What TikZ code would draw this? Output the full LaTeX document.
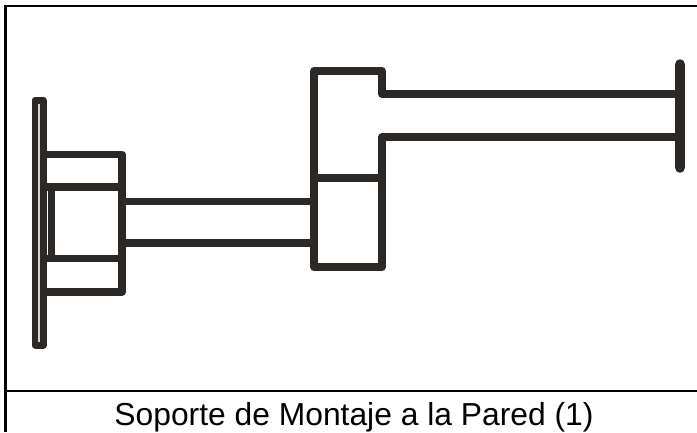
\documentclass[tikz,border=0pt]{standalone}
\usepackage{fontspec}
\setmainfont{Liberation Sans}
\definecolor{ink}{HTML}{2B2825}
\definecolor{slit}{HTML}{D4D4D4}
\tikzset{
  part/.style={draw=ink,line width=7.6pt,line join=round,line cap=butt},
  frame/.style={draw=black,line width=2.6pt},
  cap text/.style={inner sep=0pt,anchor=base,text=black,font=\fontsize{31.8pt}{36pt}\selectfont}
}
\begin{document}
\begin{tikzpicture}[x=1pt,y=-1pt]
\useasboundingbox (0,0) rectangle (697,432);
\fill[white] (0,0) rectangle (697,432);
% frame
\draw[frame] (5.5,432) -- (5.5,6) -- (697,6);
\draw[frame] (5.5,391) -- (697,391);
% left housing
\draw[part] (44,154.5) -- (122,154.5) -- (122,292) -- (44,292);
\draw[part] (44,187) -- (122,187);
\draw[part] (44,258.5) -- (122,258.5);
\draw[part] (51.5,187) -- (51.5,258.5);
% wall plate
\draw[part,line width=7pt] (35,100) rectangle (43,345);
\fill[ink] (35,100) rectangle (43,345);
\draw[slit,line width=1.6pt] (39,103.5) -- (39,341.5);
% lower arm
\draw[part] (122,201.5) -- (314,201.5);
\draw[part] (122,243) -- (314,243);
% middle joint
\draw[part] (680,94) -- (382,94) -- (382,71) -- (314,71) -- (314,267) -- (382,267) -- (382,137) -- (680,137);
\draw[part] (314,178) -- (382,178);
% end bar
\draw[part,line width=10.5pt,line cap=round] (680,64.5) -- (680,167.5);
\node[cap text] (title) at (354,425) {Soporte de Montaje a la Pared (1)};
\end{tikzpicture}
\end{document}
